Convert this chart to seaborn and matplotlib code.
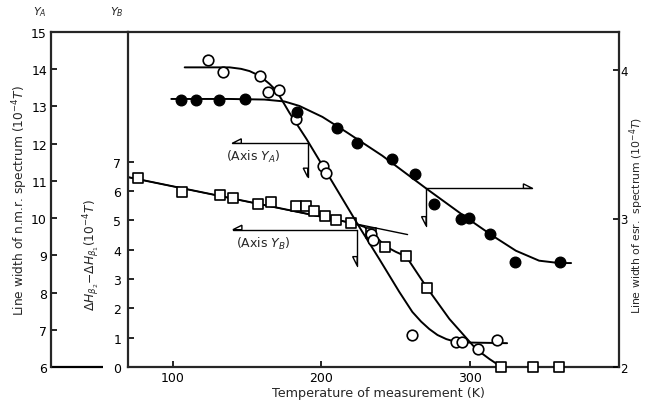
import matplotlib
matplotlib.use("Agg")
import matplotlib.pyplot as plt
import seaborn as sns
import pandas as pd
from matplotlib.patches import Polygon

# ---------------- data ----------------
# n.m.r. line width, open circles (axis Y_A, 1e-4 T)
nmr_T = [123.7, 133.8, 158.4, 164.0, 171.8, 183.0, 200.9, 203.2, 233.4, 234.6,
         260.9, 290.4, 294.8, 304.9, 318.3]
nmr_w = [14.25, 13.92, 13.83, 13.38, 13.45, 12.66, 11.41, 11.21, 9.57, 9.40,
         6.86, 6.66, 6.68, 6.48, 6.73]
nmr_curve_T = [108.1, 138.3, 146.0, 151.7, 156.5, 160.4, 165.0, 169.8, 178.5, 189.9,
               200.9, 225.5, 238.9, 252.3, 261.1, 267.0, 272.5, 278.0, 283.9, 289.0,
               294.6, 324.8]
nmr_curve_w = [14.05, 14.05, 14.01, 13.95, 13.86, 13.76, 13.61, 13.42, 12.83, 12.13,
               11.40, 9.76, 8.90, 8.02, 7.48, 7.22, 7.02, 6.86, 6.75, 6.69,
               6.66, 6.64]

# Delta H_b2 - Delta H_b1, squares (axis Y_B, 1e-4 T)
sq_T = [76.7, 106.4, 131.5, 140.3, 157.2, 166.0, 183.0, 189.5, 195.3, 202.3,
        209.9, 219.9, 233.4, 243.0, 256.8, 270.9, 320.6, 342.5, 359.7]
sq_d = [6.44, 5.96, 5.87, 5.77, 5.56, 5.63, 5.49, 5.49, 5.31, 5.14,
        5.03, 4.90, 4.56, 4.08, 3.79, 2.69, 0.0, 0.0, 0.0]
sq_curve_T = [70.0, 222.0, 229.0, 236.0, 243.0, 250.0, 257.0, 271.0, 286.0, 304.0,
              313.0, 321.0, 400.0]
sq_curve_d = [6.48, 4.90, 4.78, 4.48, 4.12, 3.93, 3.77, 2.70, 1.64, 0.61,
              0.27, 0.0, 0.0]
sq_tangent_T = [70.0, 257.9]
sq_tangent_d = [6.48, 4.52]

# e.s.r. line width, filled circles (right axis, 1e-4 T)
esr_T = [105.8, 115.9, 131.1, 148.5, 183.6, 210.7, 224.2, 247.7, 262.6, 275.8,
         294.0, 299.3, 313.4, 330.4, 360.4]
esr_w = [3.798, 3.800, 3.800, 3.805, 3.715, 3.610, 3.506, 3.400, 3.300, 3.096,
         2.997, 3.002, 2.898, 2.710, 2.707]
esr_curve_T = [99.1, 138.3, 161.7, 175.2, 185.2, 200.7, 216.8, 240.9, 270.3, 297.1,
               315.0, 330.7, 346.3, 359.7, 367.8]
esr_curve_w = [3.805, 3.805, 3.801, 3.788, 3.758, 3.684, 3.582, 3.423, 3.203, 3.008,
               2.884, 2.783, 2.716, 2.700, 2.700]

# construction arrows: (anchor T, anchor value, horizontal end T, vertical end value)
arrow_A = (190.8, 12.01, 140.1, 11.10)
arrow_B = (224.0, 4.686, 140.5, 3.46)
arrow_E = (270.3, 3.203, 341.8, 2.952)

x_ticks = [100, 200, 300]
yA_ticks = list(range(6, 16))
yB_ticks = list(range(0, 8))
esr_ticks = [2, 3, 4]

# ---------------- figure ----------------
sns.set_theme(style="ticks")
plt.rcParams["font.family"] = ["DejaVu Sans"]
plt.rcParams["mathtext.fontset"] = "dejavusans"

W, H = 646, 402
fig = plt.figure(figsize=(W / 100, H / 100), dpi=100)
fig.patch.set_facecolor("white")

L, R, T, B = 128, 619, 33, 368
ax = fig.add_axes([L / W, 1 - B / H, (R - L) / W, (B - T) / H])
ax.set_facecolor("none")
ax.set_xlim(70, 400)
ax.set_ylim(0, (B - T) / 29.3)

axA = ax.twinx()   # data axis for Y_A (hidden)
axA.set_ylim(6, 15)
axA.set_axis_off()

axE = ax.twinx()   # right esr axis
axE.set_ylim(2, 2 + (B - T) / 148.5)

# Y_A scale axis on the far left
axAs = fig.add_axes([50.5 / W, 1 - B / H, (L - 50.5) / W, (B - T) / H])
axAs.set_facecolor("none")
axAs.set_xlim(0, 1)
axAs.set_ylim(6, 15)
axAs.set_xticks([])
axAs.set_yticks(yA_ticks)
axAs.set_yticklabels([str(v) for v in yA_ticks])
for s in ["right", "bottom"]:
    axAs.spines[s].set_visible(False)
for s in ["left", "top"]:
    axAs.spines[s].set_linewidth(1.6)
axAs.plot([0, (103 - 50.5) / (L - 50.5)], [6, 6], color="black", lw=1.6,
          clip_on=False, solid_capstyle="butt")
axAs.tick_params(axis="y", direction="in", length=4, width=1.2, pad=2.5,
                 labelsize=9, colors="black")

lw_c = 1.4
ms = 58
# curves
sns.lineplot(x=nmr_curve_T, y=nmr_curve_w, ax=axA, color="black", lw=lw_c,
             estimator=None, sort=False)
sns.lineplot(x=sq_curve_T, y=sq_curve_d, ax=ax, color="black", lw=lw_c,
             estimator=None, sort=False)
sns.lineplot(x=sq_tangent_T, y=sq_tangent_d, ax=ax, color="black", lw=1.0,
             estimator=None, sort=False)
sns.lineplot(x=esr_curve_T, y=esr_curve_w, ax=axE, color="black", lw=lw_c,
             estimator=None, sort=False)

# markers
sns.scatterplot(x=nmr_T, y=nmr_w, ax=axA, marker="o", s=ms, facecolor="white",
                edgecolor="black", linewidth=1.2, zorder=5, clip_on=False)
sns.scatterplot(x=sq_T, y=sq_d, ax=ax, marker="s", s=ms, facecolor="white",
                edgecolor="black", linewidth=1.2, zorder=5, clip_on=False)
sns.scatterplot(x=esr_T, y=esr_w, ax=axE, marker="o", s=ms, facecolor="black",
                edgecolor="black", linewidth=1.0, zorder=5, clip_on=False)

# axes styling
ax.set_xticks(x_ticks)
ax.set_xticklabels([str(v) for v in x_ticks])
ax.set_yticks(yB_ticks)
ax.set_yticklabels([str(v) for v in yB_ticks])
ax.tick_params(axis="x", direction="in", length=4, width=1.2, pad=3,
               labelsize=9, colors="black")
ax.tick_params(axis="y", direction="in", length=4, width=1.2, pad=5,
               labelsize=9, colors="black")
ax.set_xlabel("")
ax.set_ylabel("")
for s in ["left", "top", "bottom"]:
    ax.spines[s].set_linewidth(1.6)
ax.spines["right"].set_visible(False)

axE.set_yticks(esr_ticks)
axE.set_yticklabels([str(v) for v in esr_ticks])
axE.tick_params(axis="y", direction="in", length=4, width=1.2, pad=1,
                labelsize=8.5, colors="black")
axE.spines["right"].set_linewidth(1.6)
for s in ["left", "top", "bottom"]:
    axE.spines[s].set_visible(False)
axE.set_ylabel("")

# labels
fig.text(20 / W, 1 - 201 / H, r"Line width of n.m.r. spectrum (10$^{-4}$$T$)",
         rotation=90, ha="center", va="center", fontsize=8.8)
fig.text(92 / W, 1 - 255 / H,
         r"$\Delta H_{\beta_2}$$-$$\Delta H_{\beta_1}$(10$^{-4}$$T$)",
         rotation=90, ha="center", va="center", fontsize=8.8)
fig.text(636.5 / W, 1 - 215 / H, r"Line width of esr.  spectrum (10$^{-4}$$T$)",
         rotation=90, ha="center", va="center", fontsize=7.8)
fig.text(378 / W, 1 - 394 / H, "Temperature of measurement (K)",
         ha="center", va="center", fontsize=9.2)
fig.text(40 / W, 1 - 12 / H, r"$Y_A$", ha="center", va="center", fontsize=8)
fig.text(117 / W, 1 - 12 / H, r"$Y_B$", ha="center", va="center", fontsize=8)

ax.text(154.4, (368 - 156.7) / 29.3, r"(Axis $Y_A$)", ha="center", va="center",
        fontsize=9)
ax.text(160.6, 4.22, r"(Axis $Y_B$)", ha="center", va="center", fontsize=9)

# construction arrows with half open heads
fig.canvas.draw()


def half_head(tip_px, direction, side):
    dx, dy = direction
    px, py = -dy * side, dx * side
    Lh, Wh = 9, 4.5
    tx, ty = tip_px
    bx, by = tx - dx * Lh, ty - dy * Lh
    verts = [(tx, ty), (bx + px * Wh, by + py * Wh), (bx, by)]
    fig.patches.append(Polygon(verts, closed=True, facecolor="white",
                               edgecolor="black", lw=1.0,
                               transform=None, figure=fig, zorder=6))


def construct(axis, spec):
    t0, v0, t_h, v_v = spec
    axis.plot([t0, t_h], [v0, v0], color="black", lw=1.0, clip_on=False)
    axis.plot([t0, t0], [v0, v_v], color="black", lw=1.0, clip_on=False)
    hp = axis.transData.transform((t_h, v0))
    vp = axis.transData.transform((t0, v_v))
    hdir = (1, 0) if t_h > t0 else (-1, 0)
    half_head(hp, hdir, 1 if hdir[0] > 0 else -1)
    half_head(vp, (0, -1), -1)


construct(axA, arrow_A)
construct(ax, arrow_B)
construct(axE, arrow_E)

fig.savefig("out.png", dpi=100)
